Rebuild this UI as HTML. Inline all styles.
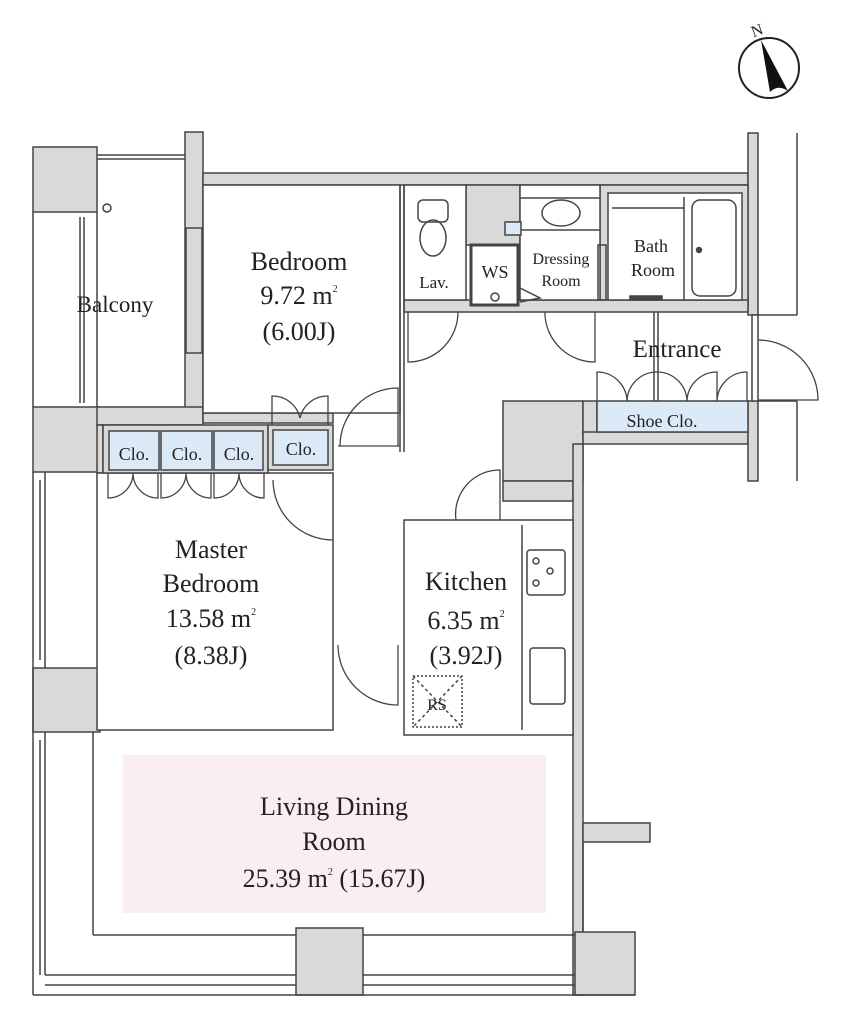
<!DOCTYPE html>
<html><head><meta charset="utf-8"><style>
html,body{margin:0;padding:0;background:#fff;}
svg{display:block;}
text{font-family:"Liberation Serif",serif;fill:#222;}
</style></head><body>
<svg width="851" height="1024" viewBox="0 0 851 1024" xmlns="http://www.w3.org/2000/svg">
<circle cx="769" cy="68" r="30" stroke="#222" stroke-width="2" fill="none"/>
<path d="M761 40 L788 91 Q778 84 770 92 Z" fill="#111"/>
<text x="751" y="36" font-size="16" font-family="Liberation Sans" transform="rotate(-20 756 30)">N</text>

<g stroke="#444" stroke-width="1.5">
<rect x="33" y="147" width="64" height="65" fill="#d9d9d9"/>
<rect x="185" y="132" width="18" height="292" fill="#d9d9d9"/>
<rect x="203" y="173" width="545" height="12" fill="#d9d9d9"/>
<rect x="748" y="133" width="10" height="182" fill="#d9d9d9"/>
<rect x="33" y="407" width="67" height="65" fill="#d9d9d9"/>
<rect x="97" y="407" width="106" height="18" fill="#d9d9d9"/>
<rect x="203" y="413" width="130" height="10" fill="#d9d9d9"/>
<rect x="466" y="185" width="54" height="60" fill="#d9d9d9"/>
<rect x="600" y="185" width="148" height="120" fill="#d9d9d9"/>
<rect x="404" y="300" width="344" height="12" fill="#d9d9d9"/>
<rect x="503" y="401" width="80" height="80" fill="#d9d9d9"/>
<rect x="583" y="401" width="14" height="32" fill="#d9d9d9"/>
<rect x="583" y="432" width="165" height="12" fill="#d9d9d9"/>
<rect x="748" y="401" width="10" height="80" fill="#d9d9d9"/>
<rect x="503" y="481" width="70" height="20" fill="#d9d9d9"/>
<rect x="573" y="444" width="10" height="551" fill="#d9d9d9"/>
<rect x="583" y="823" width="67" height="19" fill="#d9d9d9"/>
<rect x="33" y="668" width="67" height="64" fill="#d9d9d9"/>
<rect x="296" y="928" width="67" height="67" fill="#d9d9d9"/>
<rect x="575" y="932" width="60" height="63" fill="#d9d9d9"/>
<rect x="97" y="425" width="6" height="48" fill="#d9d9d9"/>
</g>

<g stroke="#444" stroke-width="1.5" fill="#fff">
<rect x="203" y="185" width="197" height="228"/>
<rect x="404" y="185" width="62" height="115"/>
<rect x="520" y="185" width="80" height="115"/>
<rect x="608" y="193" width="134" height="107"/>
<rect x="471" y="245" width="47" height="60" stroke-width="3"/>
<rect x="404" y="520" width="169" height="215"/>
<rect x="97" y="473" width="236" height="257"/>
</g>

<g stroke="#444" stroke-width="1.5" fill="none">
<line x1="400" y1="185" x2="400" y2="452"/><line x1="404" y1="185" x2="404" y2="452"/>
<line x1="797" y1="133" x2="797" y2="315"/><line x1="758" y1="315" x2="797" y2="315"/>
<line x1="797" y1="401" x2="797" y2="481"/><line x1="758" y1="401" x2="797" y2="401"/>
<line x1="33" y1="212" x2="33" y2="407"/><line x1="97" y1="212" x2="97" y2="407"/>
<line x1="80" y1="217" x2="80" y2="403"/><line x1="84" y1="217" x2="84" y2="403"/>
<line x1="97" y1="155" x2="185" y2="155"/><line x1="97" y1="159" x2="185" y2="159"/>
<circle cx="107" cy="208" r="4"/>
<rect x="186" y="228" width="16" height="125"/>
<line x1="33" y1="472" x2="33" y2="995"/><line x1="45" y1="472" x2="45" y2="668"/><line x1="40" y1="480" x2="40" y2="660"/>
<line x1="45" y1="732" x2="45" y2="975"/><line x1="40" y1="740" x2="40" y2="975"/>
<line x1="33" y1="995" x2="635" y2="995"/>
<line x1="45" y1="975" x2="296" y2="975"/><line x1="45" y1="985" x2="296" y2="985"/>
<line x1="363" y1="975" x2="575" y2="975"/><line x1="363" y1="985" x2="575" y2="985"/>
<line x1="93" y1="732" x2="93" y2="935"/><line x1="93" y1="935" x2="296" y2="935"/><line x1="363" y1="935" x2="575" y2="935"/>
<line x1="583" y1="842" x2="583" y2="932"/>
<line x1="522" y1="525" x2="522" y2="730"/>
<rect x="527" y="550" width="38" height="45" rx="3"/>
<circle cx="536" cy="561" r="3"/><circle cx="550" cy="571" r="3"/><circle cx="536" cy="583" r="3"/>
<rect x="530" y="648" width="35" height="56" rx="3"/>
<rect x="413" y="676" width="49" height="51" stroke-dasharray="2 2"/>
<line x1="413" y1="676" x2="462" y2="727" stroke-dasharray="3 3"/><line x1="462" y1="676" x2="413" y2="727" stroke-dasharray="3 3"/>
<rect x="418" y="200" width="30" height="22" rx="5"/>
<ellipse cx="433" cy="238" rx="13" ry="18"/>
<line x1="520" y1="198" x2="600" y2="198"/><line x1="520" y1="230" x2="600" y2="230"/>
<ellipse cx="561" cy="213" rx="19" ry="13"/>
<polyline points="520,288 540,298 520,302"/>
<circle cx="495" cy="297" r="4"/>
<line x1="684" y1="197" x2="684" y2="300"/>
<rect x="692" y="200" width="44" height="96" rx="8"/>
<circle cx="699" cy="250" r="2.5" fill="#444"/>
<line x1="612" y1="208" x2="684" y2="208"/>
<rect x="630" y="296" width="32" height="4" fill="#444"/>
<rect x="598" y="245" width="8" height="55"/>
<line x1="654" y1="312" x2="654" y2="432"/><line x1="658" y1="312" x2="658" y2="432"/>
<rect x="752" y="315" width="6" height="86" fill="#fff"/>
</g>

<g stroke="#444" stroke-width="1.5">
<rect x="103" y="425" width="165" height="48" fill="#d9d9d9"/>
<rect x="109" y="431" width="50" height="39" fill="#dce9f7"/>
<rect x="161" y="431" width="51" height="39" fill="#dce9f7"/>
<rect x="214" y="431" width="49" height="39" fill="#dce9f7"/>
<rect x="268" y="425" width="65" height="45" fill="#d9d9d9"/>
<rect x="273" y="430" width="55" height="35" fill="#dce9f7"/>
<rect x="597" y="401" width="151" height="31" fill="#dce9f7"/>
<rect x="505" y="222" width="16" height="13" fill="#dce9f7"/>
</g>
<rect x="123" y="755" width="423" height="158" fill="#fbeef0"/>

<g stroke="#444" stroke-width="1.3" fill="none">
<path d="M340 446 A58 58 0 0 1 398 388 L398 446"/><line x1="338" y1="446" x2="400" y2="446"/>
<path d="M408 312 L408 362 A50 50 0 0 0 458 312"/>
<path d="M545 312 L545 316 A50 50 0 0 0 595 362 L595 312"/>
<path d="M758 340 A60 60 0 0 1 818 400 L758 400"/>
<path d="M273 480 A60 60 0 0 0 333 540"/>
<path d="M338 645 A60 60 0 0 0 398 705 L398 645"/>
<path d="M456 520 A44 44 0 0 1 500 470 L500 520"/>
<path d="M108 473 L108 498 A25 25 0 0 0 133 473 A25 25 0 0 0 158 498 L158 473"/>
<path d="M161 473 L161 498 A25 25 0 0 0 186 473 A25 25 0 0 0 211 498 L211 473"/>
<path d="M214 473 L214 498 A25 25 0 0 0 239 473 A25 25 0 0 0 264 498 L264 473"/>
<path d="M272 425 L272 396 A28 28 0 0 1 300 418 A28 28 0 0 1 328 396 L328 425"/>
<path d="M597 401 L597 372 A30 30 0 0 1 627 401 A30 30 0 0 1 657 372 A30 30 0 0 1 687 401 A30 30 0 0 1 717 372 L717 401 M717 401 A30 30 0 0 1 747 372 L747 401"/>
</g>

<g text-anchor="middle">
<text x="299" y="270" font-size="26">Bedroom</text>
<text x="299" y="304" font-size="26">9.72 m<tspan font-size="10" dy="-12">2</tspan></text>
<text x="299" y="340" font-size="26">(6.00J)</text>
<text x="115" y="312" font-size="23">Balcony</text>
<text x="134" y="460" font-size="18">Clo.</text>
<text x="187" y="460" font-size="18">Clo.</text>
<text x="239" y="460" font-size="18">Clo.</text>
<text x="301" y="455" font-size="18">Clo.</text>
<text x="434" y="288" font-size="17">Lav.</text>
<text x="495" y="278" font-size="18">WS</text>
<text x="561" y="264" font-size="16">Dressing</text>
<text x="561" y="286" font-size="16">Room</text>
<text x="651" y="252" font-size="18">Bath</text>
<text x="653" y="276" font-size="18">Room</text>
<text x="677" y="357" font-size="25">Entrance</text>
<text x="662" y="427" font-size="18">Shoe Clo.</text>
<text x="211" y="558" font-size="26">Master</text>
<text x="211" y="592" font-size="26">Bedroom</text>
<text x="211" y="627" font-size="26">13.58 m<tspan font-size="10" dy="-12">2</tspan></text>
<text x="211" y="664" font-size="26">(8.38J)</text>
<text x="466" y="590" font-size="26">Kitchen</text>
<text x="466" y="629" font-size="26">6.35 m<tspan font-size="10" dy="-12">2</tspan></text>
<text x="466" y="664" font-size="26">(3.92J)</text>
<text x="437" y="710" font-size="16">RS</text>
<text x="334" y="815" font-size="26">Living Dining</text>
<text x="334" y="850" font-size="26">Room</text>
<text x="334" y="887" font-size="26">25.39 m<tspan font-size="10" dy="-12">2</tspan><tspan dy="12"> (15.67J)</tspan></text>
</g>
</svg>
</body></html>
